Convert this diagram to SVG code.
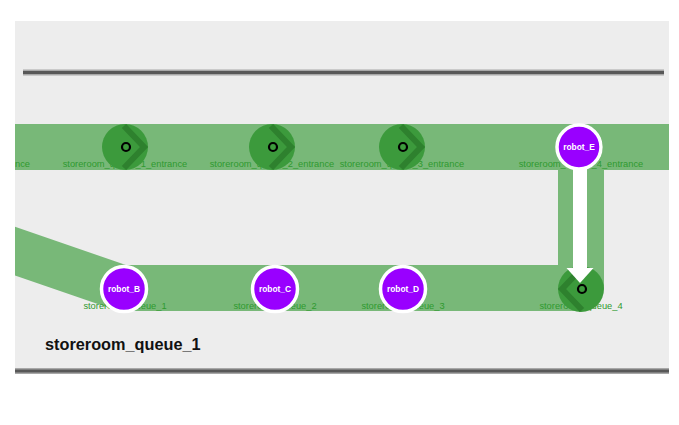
<svg xmlns="http://www.w3.org/2000/svg" width="679" height="425" viewBox="0 0 679 425">
<style>
.band{fill:none;stroke:#78b878;stroke-width:46}
.lbl{font-family:"Liberation Sans",Arial,sans-serif;font-size:9.3px;fill:#2f9a2f;text-anchor:middle}
.pt{fill:#3c9a3c}
.chev{fill:none;stroke:#2e812e;stroke-width:6;stroke-linejoin:miter}
.ring{fill:none;stroke:#000;stroke-width:2.2}
.robot circle{fill:#9900ff;stroke:#fff;stroke-width:3.5}
.robot text{font-family:"Liberation Sans",Arial,sans-serif;font-size:8.4px;font-weight:bold;fill:#fff;text-anchor:middle}
.wall{stroke:#585858;stroke-width:3}
.wallb{stroke:#a8a8a8;stroke-width:6}
</style>
<defs>
<clipPath id="area"><rect x="15" y="21" width="654" height="352"/></clipPath>
</defs>
<rect x="0" y="0" width="679" height="425" fill="#ffffff"/>
<rect x="15" y="21" width="654" height="352" fill="#ededed"/>
<g id="walls">
<line class="wallb" x1="23" y1="72.5" x2="664" y2="72.5"/>
<line class="wall" x1="23" y1="72.5" x2="664" y2="72.5"/>
<line class="wallb" x1="15" y1="371" x2="669" y2="371"/>
<line class="wall" x1="15" y1="371" x2="669" y2="371"/>
</g>
<g id="connectors" clip-path="url(#area)">
<path class="band" d="M0,147 L679,147"/>
<path class="band" d="M-20,239 L122,288 L581,288" stroke-linejoin="miter"/>
<path class="band" d="M581,170 L581,288"/>
</g>
<g id="labels" clip-path="url(#area)">
<text class="lbl" x="15" y="167" style="text-anchor:start">nce</text>
<text class="lbl" x="125" y="167">storeroom_queue_1_entrance</text>
<text class="lbl" x="272" y="167">storeroom_queue_2_entrance</text>
<text class="lbl" x="402" y="167">storeroom_queue_3_entrance</text>
<text class="lbl" x="581" y="167">storeroom_queue_4_entrance</text>
<text class="lbl" x="125" y="309">storeroom_queue_1</text>
<text class="lbl" x="275" y="309">storeroom_queue_2</text>
<text class="lbl" x="403" y="309">storeroom_queue_3</text>
<text class="lbl" x="581" y="309">storeroom_queue_4</text>
</g>
<g id="storeroom_queue_1_entrance">
<circle class="pt" cx="125" cy="147" r="23"/>
<polyline class="chev" points="124,126 144,147 124,168"/>
<circle class="ring" cx="126" cy="147" r="4"/>
</g>
<g id="storeroom_queue_2_entrance">
<circle class="pt" cx="272" cy="147" r="23"/>
<polyline class="chev" points="271,126 291,147 271,168"/>
<circle class="ring" cx="273" cy="147" r="4"/>
</g>
<g id="storeroom_queue_3_entrance">
<circle class="pt" cx="402" cy="147" r="23"/>
<polyline class="chev" points="401,126 421,147 401,168"/>
<circle class="ring" cx="403" cy="147" r="4"/>
</g>
<g id="storeroom_queue_4_entrance">
<circle class="pt" cx="580" cy="147" r="23"/>
</g>
<g id="storeroom_queue_1"><circle class="pt" cx="124" cy="289" r="23"/></g>
<g id="storeroom_queue_2"><circle class="pt" cx="275" cy="289" r="23"/></g>
<g id="storeroom_queue_3"><circle class="pt" cx="403" cy="289" r="23"/></g>
<g id="storeroom_queue_4">
<circle class="pt" cx="581" cy="289" r="23"/>
<polyline class="chev" points="582,268 562,289 582,310"/>
<circle class="ring" cx="582" cy="289" r="4"/>
</g>
<g id="move-arrow">
<line x1="580" y1="165" x2="580" y2="270" stroke="#ffffff" stroke-width="14"/>
<polygon points="566.5,268 593.5,268 580,283" fill="#ffffff"/>
</g>
<g id="robot_B" class="robot"><circle cx="124" cy="289" r="22.5"/><text x="124" y="292">robot_B</text></g>
<g id="robot_C" class="robot"><circle cx="275" cy="289" r="22.5"/><text x="275" y="292">robot_C</text></g>
<g id="robot_D" class="robot"><circle cx="403" cy="289" r="22.5"/><text x="403" y="292">robot_D</text></g>
<g id="robot_E" class="robot"><circle cx="579" cy="147" r="22"/><text x="579" y="150">robot_E</text></g>
<text x="45" y="350" font-family="'Liberation Sans',Arial,sans-serif" font-size="16.3" font-weight="bold" fill="#111111">storeroom_queue_1</text>
</svg>
